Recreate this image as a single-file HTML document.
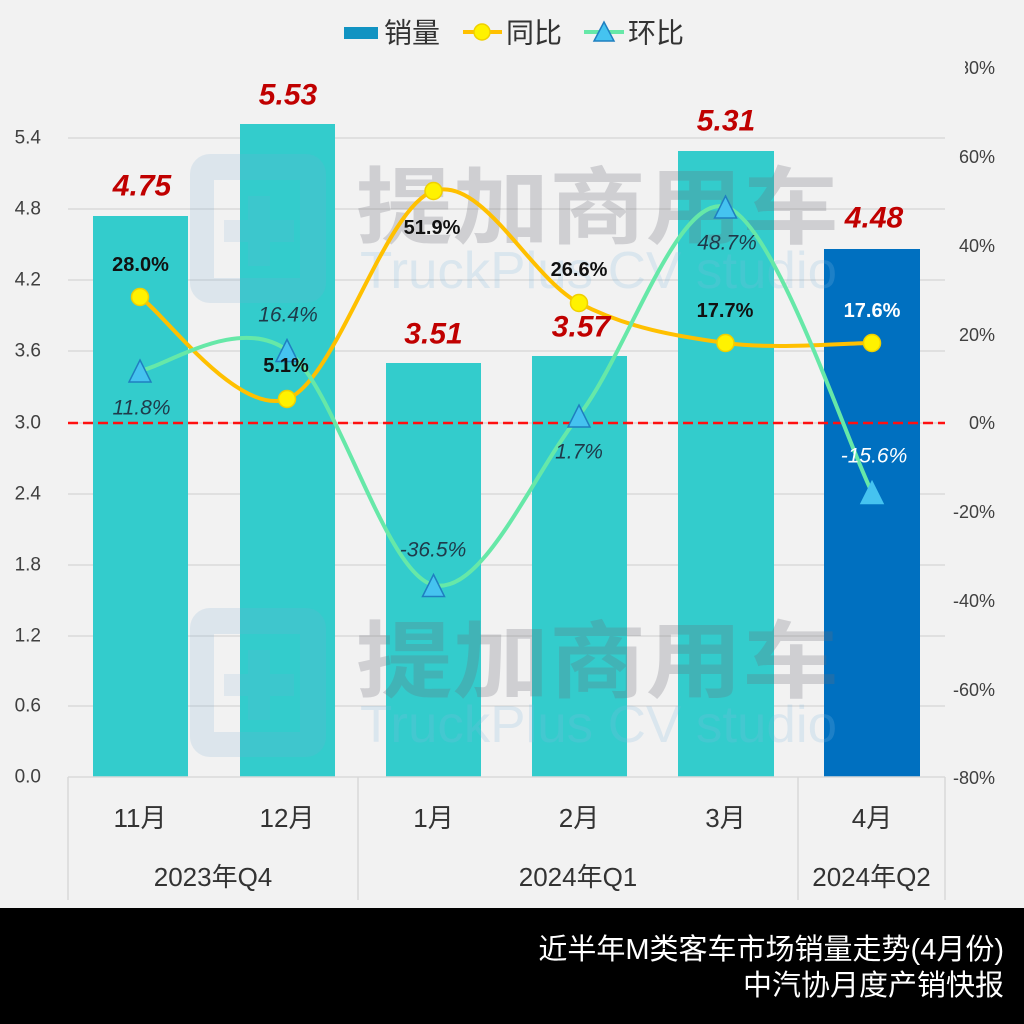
<!DOCTYPE html>
<html><head><meta charset="utf-8"><style>
html,body{margin:0;padding:0;background:#F2F2F2;}
svg{display:block;}
text{font-family:"Liberation Sans","Noto Sans CJK SC",sans-serif;}
</style></head><body>
<svg width="1024" height="1024" viewBox="0 0 1024 1024" xmlns="http://www.w3.org/2000/svg">
<rect x="0" y="0" width="1024" height="1024" fill="#F2F2F2"/>
<!-- gridlines -->
<g stroke="#D9D9D9" stroke-width="1.5">
<line x1="68" y1="138" x2="945" y2="138"/>
<line x1="68" y1="209" x2="945" y2="209"/>
<line x1="68" y1="280" x2="945" y2="280"/>
<line x1="68" y1="351" x2="945" y2="351"/>
<line x1="68" y1="423" x2="945" y2="423"/>
<line x1="68" y1="494" x2="945" y2="494"/>
<line x1="68" y1="565" x2="945" y2="565"/>
<line x1="68" y1="636" x2="945" y2="636"/>
<line x1="68" y1="706" x2="945" y2="706"/>
</g>
<!-- bars -->
<g fill="#33CCCC">
<rect x="93" y="216" width="95" height="561"/>
<rect x="240" y="124" width="95" height="653"/>
<rect x="386" y="363" width="95" height="414"/>
<rect x="532" y="356" width="95" height="421"/>
<rect x="678" y="151" width="96" height="626"/>
</g>
<rect x="824" y="249" width="96" height="528" fill="#0070C0"/>
<!-- watermarks -->
<g>
<path fill-rule="evenodd" fill="rgba(120,170,210,0.18)" d="M210,154 h96 a20,20 0 0 1 20,20 v109 a20,20 0 0 1 -20,20 h-96 a20,20 0 0 1 -20,-20 v-109 a20,20 0 0 1 20,-20 Z M214,180 h86 v98 h-86 Z"/>
<path fill="rgba(120,170,210,0.14)" d="M248,196 h22 v24 h24 v22 h-24 v24 h-22 v-24 h-24 v-22 h24 Z"/>
<text x="356" y="237" font-size="84" font-weight="700" fill="rgba(110,110,118,0.26)" textLength="483" lengthAdjust="spacingAndGlyphs">提加商用车</text>
<text x="360" y="288" font-size="52" fill="rgba(130,185,225,0.22)" textLength="477" lengthAdjust="spacingAndGlyphs">TruckPlus CV studio</text>
<path fill-rule="evenodd" fill="rgba(120,170,210,0.18)" d="M210,608 h96 a20,20 0 0 1 20,20 v109 a20,20 0 0 1 -20,20 h-96 a20,20 0 0 1 -20,-20 v-109 a20,20 0 0 1 20,-20 Z M214,634 h86 v98 h-86 Z"/>
<path fill="rgba(120,170,210,0.14)" d="M248,650 h22 v24 h24 v22 h-24 v24 h-22 v-24 h-24 v-22 h24 Z"/>
<text x="356" y="691" font-size="84" font-weight="700" fill="rgba(110,110,118,0.26)" textLength="483" lengthAdjust="spacingAndGlyphs">提加商用车</text>
<text x="360" y="742" font-size="52" fill="rgba(130,185,225,0.22)" textLength="477" lengthAdjust="spacingAndGlyphs">TruckPlus CV studio</text>
</g>
<!-- red dashed zero line -->
<line x1="68" y1="423" x2="945" y2="423" stroke="#FF1010" stroke-width="2.5" stroke-dasharray="10,5"/>
<!-- category axis -->
<g stroke="#D9D9D9" stroke-width="1.5">
<line x1="68" y1="777" x2="945" y2="777"/>
<line x1="68" y1="777" x2="68" y2="900"/>
<line x1="358" y1="777" x2="358" y2="900"/>
<line x1="798" y1="777" x2="798" y2="900"/>
<line x1="945" y1="777" x2="945" y2="900"/>
</g>
<!-- lines -->
<path fill="none" stroke="#FFC000" stroke-width="4" stroke-linecap="round" d="M140,297 C164.5,314 238.1,416.7 287,399 C335.9,381.3 384.8,207 433.5,191 C482.2,175 530.3,277.7 579,303 C627.7,328.3 676.7,336.3 725.5,343 C774.3,349.7 847.6,343 872,343"/>
<path fill="none" stroke="#66E8A8" stroke-width="4" stroke-linecap="round" d="M140,370.6 C164.5,367.2 238.1,314.5 287,350.2 C335.9,385.9 384.8,574.1 433.5,585 C482.2,595.9 530.3,478.5 579,415.5 C627.7,352.5 676.7,194 725.5,206.8 C774.3,219.6 847.6,444.7 872,492.3"/>
<!-- markers 同比 -->
<g fill="#FFF200" stroke="#F0D000" stroke-width="1.5">
<circle cx="140" cy="297" r="8.5"/>
<circle cx="287" cy="399" r="8.5"/>
<circle cx="433.5" cy="191" r="8.5"/>
<circle cx="579" cy="303" r="8.5"/>
<circle cx="725.5" cy="343" r="8.5"/>
<circle cx="872" cy="343" r="8.5"/>
</g>
<!-- markers 环比 -->
<g fill="#45C3F0" stroke="#1F7FC0" stroke-width="1.5">
<path d="M140,360 L151,382 L129,382 Z"/>
<path d="M287,339.5 L298,361.5 L276,361.5 Z"/>
<path d="M433.5,574.5 L444.5,596.5 L422.5,596.5 Z"/>
<path d="M579,405 L590,427 L568,427 Z"/>
<path d="M725.5,196 L736.5,218 L714.5,218 Z"/>
<path d="M872,481.5 L883,503.5 L861,503.5 Z" stroke="#45C3F0"/>
</g>
<!-- red value labels -->
<g font-size="30" font-style="italic" font-weight="700" fill="#C00000" text-anchor="middle" dominant-baseline="central">
<text x="142" y="186">4.75</text>
<text x="288" y="95">5.53</text>
<text x="433.5" y="334">3.51</text>
<text x="581" y="327">3.57</text>
<text x="726" y="121">5.31</text>
<text x="874" y="218">4.48</text>
</g>
<!-- 同比 labels -->
<g font-size="20" font-weight="700" fill="#111" text-anchor="middle" dominant-baseline="central">
<text x="140.5" y="265">28.0%</text>
<text x="286" y="366">5.1%</text>
<text x="432" y="228">51.9%</text>
<text x="579" y="270">26.6%</text>
<text x="725" y="311">17.7%</text>
<text x="872" y="311" fill="#FFFFFF">17.6%</text>
</g>
<!-- 环比 labels -->
<g font-size="21" font-style="italic" fill="#1F3A4A" text-anchor="middle" dominant-baseline="central">
<text x="141.5" y="408">11.8%</text>
<text x="288" y="315">16.4%</text>
<text x="433" y="550">-36.5%</text>
<text x="579" y="452">1.7%</text>
<text x="727" y="243">48.7%</text>
<text x="874" y="456" fill="#FFFFFF">-15.6%</text>
</g>
<!-- left axis labels -->
<g font-size="19" fill="#404040" text-anchor="end" dominant-baseline="central">
<text x="41" y="138">5.4</text>
<text x="41" y="209">4.8</text>
<text x="41" y="280">4.2</text>
<text x="41" y="351">3.6</text>
<text x="41" y="423">3.0</text>
<text x="41" y="494">2.4</text>
<text x="41" y="565">1.8</text>
<text x="41" y="636">1.2</text>
<text x="41" y="706">0.6</text>
<text x="41" y="777">0.0</text>
</g>
<!-- right axis labels -->
<defs><clipPath id="c80"><rect x="965" y="50" width="60" height="40"/></clipPath></defs>
<g font-size="18" fill="#404040" text-anchor="end" dominant-baseline="central">
<text x="995" y="68" clip-path="url(#c80)">80%</text>
<text x="995" y="157">60%</text>
<text x="995" y="246">40%</text>
<text x="995" y="335">20%</text>
<text x="995" y="423">0%</text>
<text x="995" y="512">-20%</text>
<text x="995" y="601">-40%</text>
<text x="995" y="690">-60%</text>
<text x="995" y="778">-80%</text>
</g>
<!-- category labels -->
<g font-size="26" fill="#333" text-anchor="middle" dominant-baseline="central">
<text x="140" y="818">11月</text>
<text x="287" y="818">12月</text>
<text x="433.5" y="818">1月</text>
<text x="579" y="818">2月</text>
<text x="725.5" y="818">3月</text>
<text x="872" y="818">4月</text>
<text x="213" y="877">2023年Q4</text>
<text x="578" y="877">2024年Q1</text>
<text x="871.5" y="877">2024年Q2</text>
</g>
<!-- legend -->
<rect x="344" y="27" width="34" height="12" fill="#1193C2"/>
<text x="384" y="33" font-size="28" fill="#333" dominant-baseline="central">销量</text>
<line x1="463" y1="32" x2="502" y2="32" stroke="#FFC000" stroke-width="4"/>
<circle cx="482" cy="32" r="8" fill="#FFF200" stroke="#F0D000" stroke-width="1.5"/>
<text x="506" y="33" font-size="28" fill="#333" dominant-baseline="central">同比</text>
<line x1="584" y1="32" x2="624" y2="32" stroke="#66E8A8" stroke-width="4"/>
<path d="M604,22 L614,41 L594,41 Z" fill="#45C3F0" stroke="#1F7FC0" stroke-width="1.5"/>
<text x="628" y="33" font-size="28" fill="#333" dominant-baseline="central">环比</text>
<!-- footer -->
<rect x="0" y="908" width="1024" height="116" fill="#000"/>
<g font-size="29" fill="#FFFFFF" text-anchor="end" dominant-baseline="central">
<text x="1004" y="950">近半年M类客车市场销量走势(4月份)</text>
<text x="1004" y="986">中汽协月度产销快报</text>
</g>
</svg>
</body></html>
